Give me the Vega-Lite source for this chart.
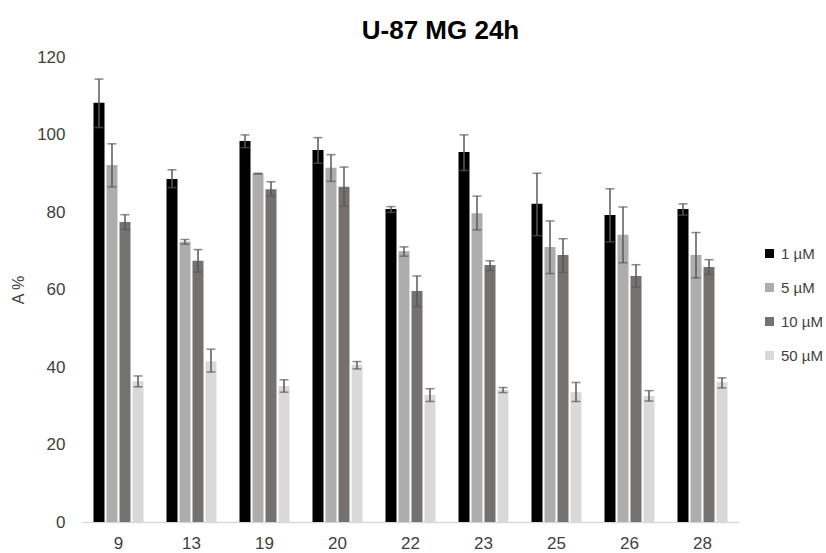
{
  "$schema": "https://vega.github.io/schema/vega-lite/v6.json",
  "width": 657,
  "height": 465,
  "autosize": {"type": "none"},
  "padding": {"left": 82, "top": 57, "right": 87, "bottom": 31},
  "background": "white",
  "title": {"text": "U-87 MG 24h", "font": "Liberation Sans", "fontSize": 26, "fontWeight": "bold", "color": "#000000", "anchor": "middle", "dx": 30, "offset": 4},
  "config": {"view": {"stroke": null}, "font": "Liberation Sans"},
  "data": {"values": [
    {"cell": "9", "conc": "1 µM", "value": 108.2, "lo": 101.8, "hi": 114.3},
    {"cell": "9", "conc": "5 µM", "value": 92.1, "lo": 86.5, "hi": 97.6},
    {"cell": "9", "conc": "10 µM", "value": 77.4, "lo": 75.5, "hi": 79.3},
    {"cell": "9", "conc": "50 µM", "value": 36.3, "lo": 34.9, "hi": 37.7},
    {"cell": "13", "conc": "1 µM", "value": 88.5, "lo": 86.3, "hi": 90.9},
    {"cell": "13", "conc": "5 µM", "value": 72.3, "lo": 71.7, "hi": 72.9},
    {"cell": "13", "conc": "10 µM", "value": 67.4, "lo": 64.5, "hi": 70.3},
    {"cell": "13", "conc": "50 µM", "value": 41.5, "lo": 38.7, "hi": 44.6},
    {"cell": "19", "conc": "1 µM", "value": 98.3, "lo": 96.6, "hi": 99.9},
    {"cell": "19", "conc": "5 µM", "value": 89.9, "lo": 89.8, "hi": 90.0},
    {"cell": "19", "conc": "10 µM", "value": 85.9, "lo": 84.2, "hi": 87.8},
    {"cell": "19", "conc": "50 µM", "value": 35.1, "lo": 33.5, "hi": 36.7},
    {"cell": "20", "conc": "1 µM", "value": 96.0, "lo": 92.6, "hi": 99.2},
    {"cell": "20", "conc": "5 µM", "value": 91.4, "lo": 87.9, "hi": 94.8},
    {"cell": "20", "conc": "10 µM", "value": 86.5, "lo": 81.5, "hi": 91.6},
    {"cell": "20", "conc": "50 µM", "value": 40.6, "lo": 39.5, "hi": 41.4},
    {"cell": "22", "conc": "1 µM", "value": 80.8, "lo": 79.9, "hi": 81.4},
    {"cell": "22", "conc": "5 µM", "value": 69.9, "lo": 68.6, "hi": 71.0},
    {"cell": "22", "conc": "10 µM", "value": 59.6, "lo": 55.6, "hi": 63.5},
    {"cell": "22", "conc": "50 µM", "value": 32.8, "lo": 31.1, "hi": 34.4},
    {"cell": "23", "conc": "1 µM", "value": 95.5, "lo": 90.7, "hi": 99.9},
    {"cell": "23", "conc": "5 µM", "value": 79.7, "lo": 75.4, "hi": 84.1},
    {"cell": "23", "conc": "10 µM", "value": 66.3, "lo": 64.9, "hi": 67.4},
    {"cell": "23", "conc": "50 µM", "value": 34.1, "lo": 33.4, "hi": 34.7},
    {"cell": "25", "conc": "1 µM", "value": 82.1, "lo": 73.9, "hi": 90.0},
    {"cell": "25", "conc": "5 µM", "value": 71.0, "lo": 64.1, "hi": 77.7},
    {"cell": "25", "conc": "10 µM", "value": 68.9, "lo": 64.4, "hi": 73.1},
    {"cell": "25", "conc": "50 µM", "value": 33.5, "lo": 31.1, "hi": 36.0},
    {"cell": "26", "conc": "1 µM", "value": 79.2, "lo": 72.3, "hi": 86.0},
    {"cell": "26", "conc": "5 µM", "value": 74.1, "lo": 66.9, "hi": 81.3},
    {"cell": "26", "conc": "10 µM", "value": 63.5, "lo": 60.6, "hi": 66.4},
    {"cell": "26", "conc": "50 µM", "value": 32.5, "lo": 31.2, "hi": 33.9},
    {"cell": "28", "conc": "1 µM", "value": 80.8, "lo": 79.2, "hi": 82.1},
    {"cell": "28", "conc": "5 µM", "value": 68.9, "lo": 63.0, "hi": 74.7},
    {"cell": "28", "conc": "10 µM", "value": 65.8, "lo": 63.9, "hi": 67.7},
    {"cell": "28", "conc": "50 µM", "value": 36.1, "lo": 34.6, "hi": 37.2}
  ]},
  "encoding": {
    "x": {
      "field": "cell", "type": "nominal", "sort": null,
      "scale": {"paddingInner": 0.315, "paddingOuter": 0.1575},
      "axis": {"title": null, "labelAngle": 0, "labelFont": "Liberation Sans", "labelFontSize": 17, "labelColor": "#404040", "labelPadding": 13, "ticks": false, "domainColor": "#d9d9d9", "domainWidth": 1.5, "grid": false}
    },
    "xOffset": {
      "field": "conc", "type": "nominal", "sort": ["1 µM", "5 µM", "10 µM", "50 µM"],
      "scale": {"paddingInner": 0.154, "paddingOuter": 0}
    }
  },
  "layer": [
    {
      "mark": {"type": "bar"},
      "encoding": {
        "y": {
          "field": "value", "type": "quantitative",
          "scale": {"domain": [0, 120], "nice": false},
          "axis": {"title": "A %", "titleFont": "Liberation Sans", "titleFontSize": 16, "titleFontWeight": "normal", "titleColor": "#404040", "titlePadding": 10, "values": [0, 20, 40, 60, 80, 100, 120], "labelFont": "Liberation Sans", "labelFontSize": 17, "labelColor": "#404040", "labelPadding": 17, "ticks": false, "domain": false, "grid": false}
        },
        "color": {
          "field": "conc", "type": "nominal",
          "sort": ["1 µM", "5 µM", "10 µM", "50 µM"],
          "scale": {"domain": ["1 µM", "5 µM", "10 µM", "50 µM"], "range": ["#000000", "#ADADAD", "#767171", "#D9D9D9"]},
          "legend": {"title": null, "orient": "none", "legendX": 680, "legendY": 189, "symbolType": "square", "symbolSize": 81, "symbolStrokeWidth": 0, "labelFont": "Liberation Sans", "labelFontSize": 15, "labelColor": "#404040", "labelOffset": 4, "rowPadding": 18, "labelLimit": 60}
        }
      }
    },
    {
      "mark": {"type": "rule", "color": "#595959", "strokeWidth": 1.5},
      "encoding": {
        "y": {"field": "lo", "type": "quantitative"},
        "y2": {"field": "hi"}
      }
    },
    {
      "mark": {"type": "tick", "color": "#595959", "thickness": 1.5, "size": 9, "orient": "horizontal"},
      "encoding": {"y": {"field": "lo", "type": "quantitative"}}
    },
    {
      "mark": {"type": "tick", "color": "#595959", "thickness": 1.5, "size": 9, "orient": "horizontal"},
      "encoding": {"y": {"field": "hi", "type": "quantitative"}}
    }
  ]
}
